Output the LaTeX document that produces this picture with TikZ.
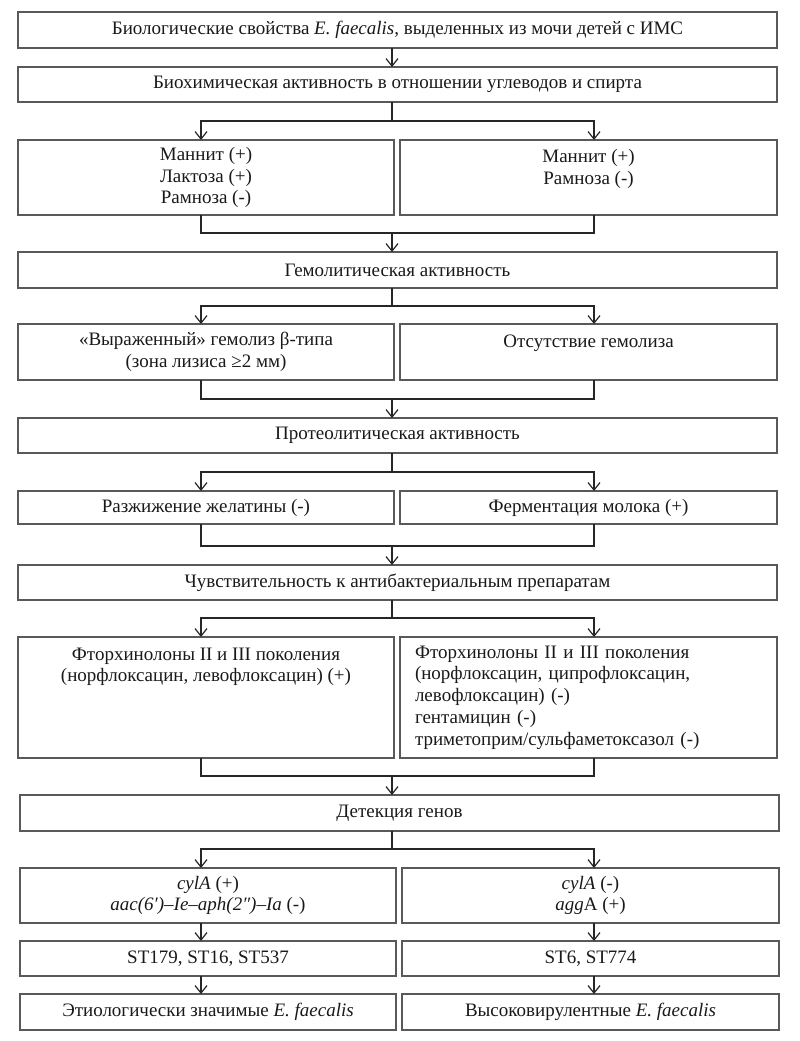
\documentclass[tikz,border=0pt]{standalone}
\usepackage{fontspec}
\setmainfont{Liberation Serif}
\usetikzlibrary{arrows.meta,calc}
\begin{document}
\begin{tikzpicture}[x=1pt,y=-1pt,
  box/.style={draw=black!65, line width=1.6pt, inner sep=0pt, outer sep=0pt,
    font=\fontsize{19}{21.8}\selectfont, text=black!90, align=center, anchor=north west},
  full/.style={box, minimum width=759pt},
  half/.style={box, minimum width=376pt},
  halfr/.style={box, minimum width=377pt},
  conn/.style={draw=black!85, line width=1.1pt},
  arr/.style={conn, -{Straight Barb[length=7.5pt,width=12pt,line width=1.2pt]}}]
\useasboundingbox (0,0) rectangle (800,1041);
\coordinate (cx) at (392,0);
\coordinate (xl) at (201,0);
\coordinate (xr) at (594,0);
% boxes
\node[full, minimum height=36pt] (b1) at (18,12) {Биологические свойства \textit{E. faecalis}, выделенных из мочи детей с ИМС};
\node[full, minimum height=35pt] (b2) at (18,67) {Биохимическая активность в отношении углеводов и спирта};
\node[half, minimum height=75pt] (b3l) at (18,140) {Маннит (+)\\Лактоза (+)\\Рамноза (-)};
\node[halfr, minimum height=75pt] (b3r) at (400,140) {Маннит (+)\\Рамноза (-)\\\mbox{}};
\node[full, minimum height=36pt] (b4) at (18,252) {Гемолитическая активность};
\node[half, minimum height=56pt] (b5l) at (18,324) {«Выраженный» гемолиз β-типа\\(зона лизиса ≥2 мм)};
\node[halfr, minimum height=56pt] (b5r) at (400,324) {Отсутствие гемолиза\\\mbox{}};
\node[full, minimum height=35pt] (b6) at (18,418) {Протеолитическая активность};
\node[half, minimum height=33pt] (b7l) at (18,491) {Разжижение желатины (-)};
\node[halfr, minimum height=33pt] (b7r) at (400,491) {Ферментация молока (+)};
\node[full, minimum height=35pt] (b8) at (18,565) {Чувствительность к антибактериальным препаратам};
\node[half, minimum height=121pt] (b9l) at (18,637) {Фторхинолоны II и III поколения\\(норфлоксацин, левофлоксацин) (+)\\\mbox{}\\\mbox{}\\\mbox{}};
\node[halfr, minimum height=121pt, align=left, text width=347pt] (b9r) at (400,637) {Фторхинолоны II и III поколения\\(норфлоксацин, ципрофлоксацин,\\левофлоксацин) (-)\\гентамицин (-)\\триметоприм/сульфаметоксазол (-)};
\node[full, minimum height=36pt] (b10) at (20,795) {Детекция генов};
\node[half, minimum height=55pt] (b11l) at (20,868) {\textit{cylA} (+)\\\textit{aac(6′)–Ie–aph(2″)–Ia} (-)};
\node[halfr, minimum height=55pt] (b11r) at (402,868) {\textit{cylA} (-)\\\textit{agg}A (+)};
\node[half, minimum height=35pt] (b12l) at (20,941) {ST179, ST16, ST537};
\node[halfr, minimum height=35pt] (b12r) at (402,941) {ST6, ST774};
\node[half, minimum height=36pt] (b13l) at (20,994) {Этиологически значимые \textit{E. faecalis}};
\node[halfr, minimum height=36pt] (b13r) at (402,994) {Высоковирулентные \textit{E. faecalis}};
% connectors
\draw[arr] (b1.south -| cx) -- (b2.north -| cx);
% branch 1
\draw[arr] (b2.south -| cx) -- ++(0,19) -| (b3l.north -| xl);
\draw[arr] (b2.south -| cx) -- ++(0,19) -| (b3r.north -| xr);
\draw[conn] (b3l.south -| xl) -- ++(0,18) -| (b3r.south -| xr);
\draw[arr] ($(b4.north -| cx)+(0,-19)$) -- (b4.north -| cx);
% branch 2
\draw[arr] (b4.south -| cx) -- ++(0,18) -| (b5l.north -| xl);
\draw[arr] (b4.south -| cx) -- ++(0,18) -| (b5r.north -| xr);
\draw[conn] (b5l.south -| xl) -- ++(0,19) -| (b5r.south -| xr);
\draw[arr] ($(b6.north -| cx)+(0,-19)$) -- (b6.north -| cx);
% branch 3
\draw[arr] (b6.south -| cx) -- ++(0,19) -| (b7l.north -| xl);
\draw[arr] (b6.south -| cx) -- ++(0,19) -| (b7r.north -| xr);
\draw[conn] (b7l.south -| xl) -- ++(0,22) -| (b7r.south -| xr);
\draw[arr] ($(b8.north -| cx)+(0,-19)$) -- (b8.north -| cx);
% branch 4
\draw[arr] (b8.south -| cx) -- ++(0,18) -| (b9l.north -| xl);
\draw[arr] (b8.south -| cx) -- ++(0,18) -| (b9r.north -| xr);
\draw[conn] (b9l.south -| xl) -- ++(0,18) -| (b9r.south -| xr);
\draw[arr] ($(b10.north -| cx)+(0,-19)$) -- (b10.north -| cx);
% branch 5
\draw[arr] (b10.south -| cx) -- ++(0,18) -| (b11l.north -| xl);
\draw[arr] (b10.south -| cx) -- ++(0,18) -| (b11r.north -| xr);
% lower chains
\draw[arr] (b11l.south -| xl) -- (b12l.north -| xl);
\draw[arr] (b11r.south -| xr) -- (b12r.north -| xr);
\draw[arr] (b12l.south -| xl) -- (b13l.north -| xl);
\draw[arr] (b12r.south -| xr) -- (b13r.north -| xr);
\end{tikzpicture}
\end{document}
